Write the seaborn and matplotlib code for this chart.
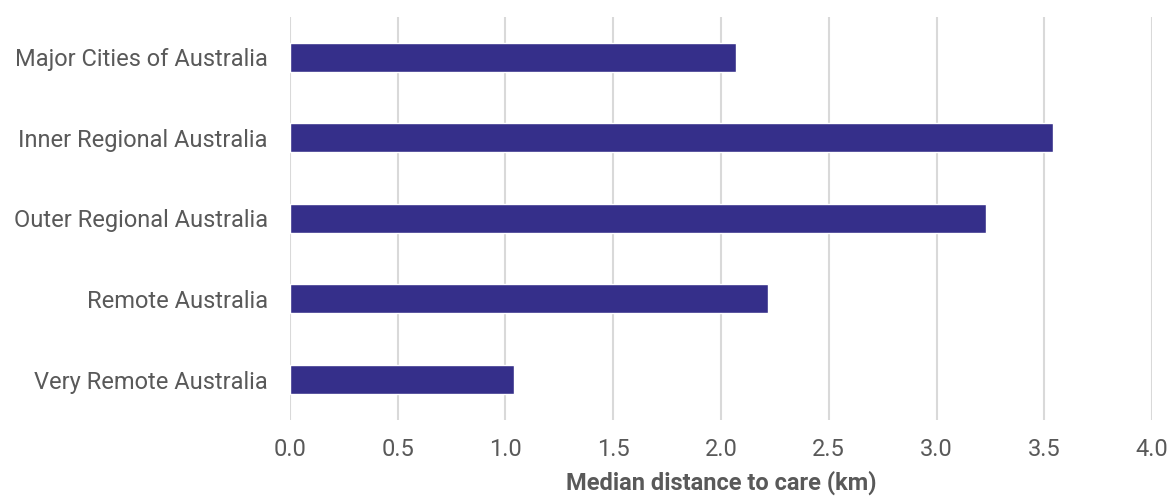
import matplotlib
matplotlib.use("Agg")
import matplotlib.pyplot as plt
import seaborn as sns
import pandas as pd

regions = ["Major Cities of Australia", "Inner Regional Australia",
           "Outer Regional Australia", "Remote Australia", "Very Remote Australia"]
median_km = [2.07, 3.54, 3.23, 2.22, 1.04]
x_ticks = [0.0, 0.5, 1.0, 1.5, 2.0, 2.5, 3.0, 3.5, 4.0]

df = pd.DataFrame({"region": regions, "km": median_km})

sns.set_theme(style="white")
plt.rcParams["font.family"] = ["Roboto", "DejaVu Sans"]

fig = plt.figure(figsize=(11.69, 4.98), dpi=100)
ax = fig.add_axes([0.248, 0.157, 0.7375, 0.809])

sns.barplot(data=df, x="km", y="region", color="#352F8A", saturation=1,
            width=0.36, ax=ax, zorder=3)

ax.set_xlim(0, 4.0)
ax.set_ylim(4.5, -0.5)
ax.set_xticks(x_ticks)
ax.set_xticklabels([f"{t:.1f}" for t in x_ticks])
ax.grid(axis="x", color="#d9d9d9", linewidth=1.5, zorder=0)
ax.set_axisbelow(True)
sns.despine(ax=ax, left=True, bottom=True)
ax.tick_params(axis="both", length=0, labelsize=17, colors="#595959")
ax.tick_params(axis="x", pad=13)
ax.tick_params(axis="y", pad=16)
ax.set_ylabel("")
ax.set_xlabel("Median distance to care (km)", fontsize=17, fontweight="bold",
              color="#595959", labelpad=7)

fig.savefig("out.png", dpi=100)
